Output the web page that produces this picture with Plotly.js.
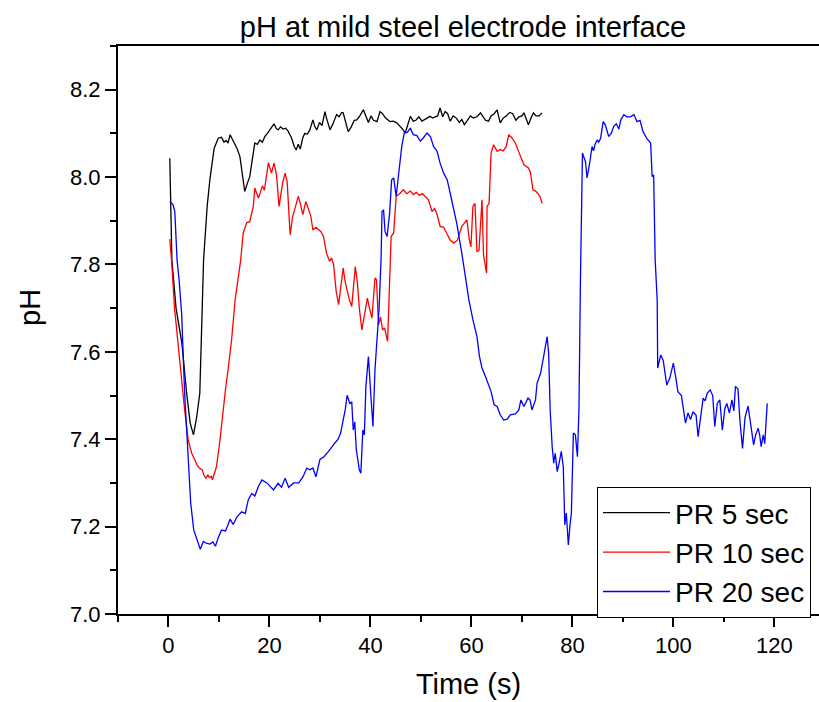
<!DOCTYPE html>
<html>
<head>
<meta charset="utf-8">
<script src="https://cdn.plot.ly/plotly-3.0.1.min.js"></script>
<style>
  html, body { margin: 0; padding: 0; background: #fff; }
  #chart { width: 819px; height: 702px; }
</style>
</head>
<body>
<div id="chart"></div>
<script>
// ---- Data ----
const seriesNames = ["PR 5 sec", "PR 10 sec", "PR 20 sec"];

const timePR5 = [0.26,0.67,1.5,2.65,3.6,4.3,4.95,5.6,6.2,6.6,6.95,7.66,8.2,9.05,9.5,9.85,10.5,11.0,11.4,11.8,12.2,12.7,13.15,13.6,14.15,14.6,15.1,15.6,16.1,16.6,17.1,17.6,18.1,18.6,19.1,19.6,20.1,20.5,20.9,21.3,21.7,22.2,22.7,23.2,23.7,24.0,24.4,24.9,25.3,25.7,26.1,26.6,27.0,27.5,28.0,28.6,29.0,29.4,29.9,30.4,31.0,31.3,31.6,32.0,32.5,33.3,33.8,34.3,34.6,35.1,35.6,36.2,36.8,37.3,37.9,38.6,39.1,39.6,40.1,40.6,41.3,41.9,42.4,43.0,43.9,44.5,45.2,45.7,46.2,46.9,47.4,47.9,48.5,49.0,49.6,50.2,50.8,51.8,52.3,52.8,53.3,53.8,54.3,54.8,55.3,55.8,56.4,57.0,57.6,58.1,58.6,59.1,59.8,60.4,61.1,61.8,62.3,62.8,63.4,63.9,64.5,65.1,65.7,66.3,66.9,67.6,68.2,68.8,69.4,70.0,70.4,70.9,71.3,71.8,72.3,72.8,73.4,74.0];
const phPR5 = [8.043,7.81,7.70,7.62,7.505,7.437,7.41,7.452,7.505,7.658,7.81,7.933,7.994,8.066,8.08,8.089,8.091,8.08,8.084,8.078,8.097,8.085,8.074,8.065,8.047,8.01,7.967,7.985,8.001,8.04,8.078,8.075,8.085,8.08,8.093,8.1,8.108,8.115,8.122,8.112,8.108,8.115,8.11,8.112,8.105,8.098,8.089,8.07,8.062,8.075,8.064,8.09,8.10,8.098,8.108,8.131,8.115,8.108,8.125,8.118,8.15,8.135,8.123,8.108,8.12,8.143,8.138,8.148,8.147,8.125,8.104,8.115,8.13,8.131,8.14,8.154,8.14,8.125,8.14,8.13,8.127,8.15,8.145,8.135,8.127,8.128,8.124,8.118,8.112,8.101,8.12,8.139,8.128,8.13,8.138,8.128,8.132,8.139,8.135,8.138,8.14,8.158,8.138,8.15,8.145,8.128,8.14,8.135,8.125,8.132,8.12,8.128,8.14,8.135,8.138,8.147,8.138,8.13,8.128,8.14,8.145,8.154,8.124,8.135,8.14,8.148,8.145,8.13,8.138,8.14,8.147,8.13,8.12,8.135,8.147,8.14,8.14,8.147];

const timePR10 = [0.26,0.6,1.2,2.2,3.2,3.9,4.6,5.2,5.7,6.1,6.7,7.0,7.4,7.8,8.1,8.5,8.7,9.1,9.5,10.2,10.8,11.3,11.8,12.5,13.2,13.8,14.3,14.8,15.5,16.1,16.8,17.1,17.5,17.8,18.2,18.6,19.0,19.4,19.8,20.1,20.4,20.9,21.1,21.4,21.9,22.3,22.6,23.1,23.5,24.1,24.6,25.1,25.7,26.1,26.6,27.2,27.7,28.2,28.6,29.2,29.7,30.2,30.7,31.3,31.9,32.3,32.7,33.2,33.7,34.2,34.6,35.0,35.3,35.8,36.3,37.0,37.4,37.8,38.3,38.6,39.0,39.4,39.8,40.3,40.9,41.2,41.6,42.0,42.4,42.8,43.4,43.9,44.1,44.6,45.1,45.8,46.5,47.2,47.9,48.5,49.1,49.7,50.3,50.9,51.5,52.2,52.7,53.2,53.8,54.5,55.2,55.8,56.5,57.2,58.1,59.1,59.6,59.9,60.3,60.7,61.1,61.5,62.1,62.4,63.0,63.1,63.5,63.9,64.4,65.1,65.7,66.3,66.9,67.4,68.0,68.7,69.3,70.4,71.3,71.7,72.2,72.7,73.2,73.6,74.0];
const phPR10 = [7.858,7.81,7.70,7.58,7.467,7.398,7.368,7.353,7.34,7.334,7.33,7.318,7.311,7.318,7.312,7.315,7.307,7.322,7.337,7.398,7.467,7.515,7.559,7.627,7.719,7.772,7.81,7.872,7.896,7.898,7.933,7.975,7.96,7.952,7.965,7.98,7.97,8.0,8.033,8.02,8.009,8.032,8.02,8.005,7.933,7.96,7.986,8.009,7.99,7.868,7.91,7.93,7.956,7.94,7.914,7.944,7.925,7.91,7.879,7.885,7.88,7.875,7.864,7.826,7.807,7.815,7.8,7.74,7.708,7.76,7.792,7.76,7.746,7.72,7.704,7.795,7.76,7.70,7.65,7.67,7.70,7.723,7.70,7.677,7.769,7.765,7.662,7.68,7.65,7.655,7.624,7.81,7.864,7.872,7.956,7.962,7.971,7.962,7.968,7.96,7.965,7.958,7.962,7.955,7.948,7.921,7.928,7.915,7.887,7.885,7.87,7.856,7.849,7.855,7.887,7.902,7.856,7.84,7.933,7.94,7.83,7.832,7.948,7.822,7.78,7.933,7.94,8.055,8.074,8.059,8.063,8.06,8.07,8.097,8.09,8.078,8.06,8.028,8.021,8.01,7.971,7.968,7.962,7.955,7.94];

const timePR20 = [0.26,0.9,1.25,1.7,2.1,2.6,3.2,3.9,4.4,5.0,5.4,5.7,6.3,6.9,7.5,8.2,8.8,9.3,9.8,10.5,11.3,12.2,12.8,13.6,14.5,15.2,15.8,16.5,17.1,17.8,18.5,19.5,20.8,21.7,22.4,23.1,23.8,24.8,25.8,26.6,27.4,28.0,28.6,29.2,30.0,30.8,31.7,32.3,33.0,33.6,34.1,34.6,35.0,35.4,35.9,36.3,36.6,36.9,37.2,37.8,38.1,38.5,38.8,39.1,39.6,40.1,40.5,40.9,41.3,41.7,42.1,42.3,42.6,42.9,43.3,43.8,44.2,44.6,45.1,45.6,46.2,46.7,47.3,47.9,48.5,49.2,49.9,50.5,51.2,51.9,52.5,53.2,53.8,54.5,55.2,55.8,56.5,57.1,58.1,58.8,59.5,60.3,61.1,61.6,62.1,62.8,63.4,63.9,64.5,65.1,65.7,66.4,67.1,67.7,68.7,69.4,69.8,70.4,71.2,71.6,72.0,72.7,73.0,73.7,74.3,75.0,75.3,75.6,76.0,76.3,76.6,77.0,77.5,77.8,78.2,78.5,78.8,79.2,79.5,79.8,80.2,80.6,81.0,81.3,81.6,82.0,82.6,82.9,83.4,83.9,84.2,84.5,84.9,85.2,85.6,86.1,86.5,87.2,87.7,88.2,88.7,89.2,89.6,90.2,90.8,91.5,92.2,92.8,93.4,94.0,94.7,95.5,95.8,96.1,96.4,96.8,96.9,97.5,98.0,98.7,99.3,100.0,100.5,100.9,101.6,102.4,102.9,103.4,103.9,104.5,104.9,105.4,105.9,106.3,106.7,107.3,107.8,108.2,108.7,109.2,109.7,110.2,110.6,111.1,111.6,112.0,112.3,112.8,113.2,113.7,114.2,114.8,115.3,115.9,116.3,116.8,117.1,117.4,117.8,118.1,118.6];
const phPR20 = [7.944,7.937,7.921,7.81,7.765,7.689,7.505,7.353,7.254,7.192,7.18,7.169,7.148,7.166,7.162,7.16,7.165,7.155,7.173,7.192,7.19,7.217,7.205,7.223,7.234,7.23,7.261,7.276,7.27,7.292,7.307,7.30,7.284,7.299,7.29,7.311,7.29,7.30,7.30,7.313,7.334,7.33,7.334,7.314,7.354,7.36,7.372,7.382,7.392,7.40,7.414,7.444,7.467,7.501,7.482,7.485,7.421,7.44,7.376,7.33,7.322,7.421,7.41,7.521,7.589,7.498,7.429,7.559,7.62,7.696,7.81,7.921,7.925,7.875,7.864,7.917,7.994,7.998,7.956,8.009,8.07,8.101,8.102,8.112,8.097,8.095,8.082,8.09,8.101,8.092,8.07,8.059,8.032,8.009,7.994,7.963,7.925,7.894,7.826,7.772,7.719,7.673,7.635,7.589,7.563,7.543,7.524,7.509,7.479,7.475,7.456,7.444,7.446,7.456,7.458,7.467,7.49,7.475,7.494,7.49,7.467,7.49,7.528,7.551,7.589,7.635,7.597,7.467,7.383,7.345,7.368,7.326,7.353,7.372,7.337,7.204,7.231,7.158,7.2,7.231,7.414,7.41,7.36,7.467,7.765,8.055,8.035,7.998,8.03,8.07,8.06,8.075,8.085,8.08,8.089,8.127,8.12,8.093,8.10,8.116,8.122,8.11,8.131,8.143,8.138,8.138,8.143,8.127,8.13,8.104,8.089,8.078,8.001,8.005,7.81,7.719,7.563,7.593,7.58,7.524,7.54,7.574,7.54,7.509,7.50,7.437,7.46,7.445,7.463,7.455,7.406,7.45,7.494,7.488,7.505,7.513,7.50,7.429,7.482,7.49,7.421,7.47,7.482,7.46,7.49,7.465,7.521,7.515,7.44,7.379,7.45,7.476,7.44,7.387,7.41,7.425,7.41,7.383,7.41,7.39,7.482];

const seriesColors = ["#000000", "#ff0000", "#0000ff"];

// ---- Traces ----
const xs = [timePR5, timePR10, timePR20];
const ys = [phPR5, phPR10, phPR20];
const traces = seriesNames.map((name, i) => ({
  x: xs[i], y: ys[i], name: name,
  type: "scatter", mode: "lines",
  line: { color: seriesColors[i], width: 1.3 }
}));

const FONT = "Liberation Sans, Arial, Helvetica, sans-serif";

const layout = {
  width: 819, height: 702,
  margin: { l: 118, r: 0, t: 46, b: 88, pad: 0 },
  paper_bgcolor: "#ffffff", plot_bgcolor: "#ffffff",
  font: { family: FONT, color: "#000000" },
  showlegend: true,
  title: {
    text: "pH at mild steel electrode interface",
    font: { family: FONT, size: 29, color: "#000" },
    xref: "container", yref: "container",
    x: 463 / 819, xanchor: "center",
    y: 1 - 27 / 702, yanchor: "middle"
  },
  xaxis: {
    range: [-10, 128.85],
    tick0: 0, dtick: 20,
    ticks: "outside", ticklen: 11, tickwidth: 2, tickcolor: "#000",
    minor: { dtick: 10, ticks: "outside", ticklen: 6, tickwidth: 2, tickcolor: "#000" },
    showline: true, linewidth: 2, linecolor: "#000", mirror: true,
    showgrid: false, zeroline: false,
    tickfont: { family: FONT, size: 22, color: "#000" },
    title: { text: "Time (s)", font: { family: FONT, size: 29, color: "#000" }, standoff: 16 },
    automargin: false
  },
  yaxis: {
    range: [7.0, 8.3],
    tick0: 7.0, dtick: 0.2, tickformat: ".1f",
    ticks: "outside", ticklen: 11, tickwidth: 2, tickcolor: "#000",
    minor: { dtick: 0.1, ticks: "outside", ticklen: 6, tickwidth: 2, tickcolor: "#000" },
    showline: true, linewidth: 2, linecolor: "#000", mirror: false,
    showgrid: false, zeroline: false,
    tickfont: { family: FONT, size: 22, color: "#000" },
    automargin: false
  },
  annotations: [{
    text: "pH", textangle: -90,
    xref: "paper", yref: "paper",
    x: (30 - 118) / 701, y: (614 - 308) / 568,
    xanchor: "center", yanchor: "middle",
    showarrow: false,
    font: { family: FONT, size: 29, color: "#000" }
  }],
  legend: {
    x: (597 - 118) / 701, xanchor: "left",
    y: (614 - 487) / 568, yanchor: "top",
    bgcolor: "#ffffff", bordercolor: "#000000", borderwidth: 1,
    font: { family: FONT, size: 28, color: "#000" },
    itemwidth: 67,
    tracegroupgap: 0
  }
};

Plotly.newPlot("chart", traces, layout, { displayModeBar: false, staticPlot: true });
</script>
</body>
</html>
